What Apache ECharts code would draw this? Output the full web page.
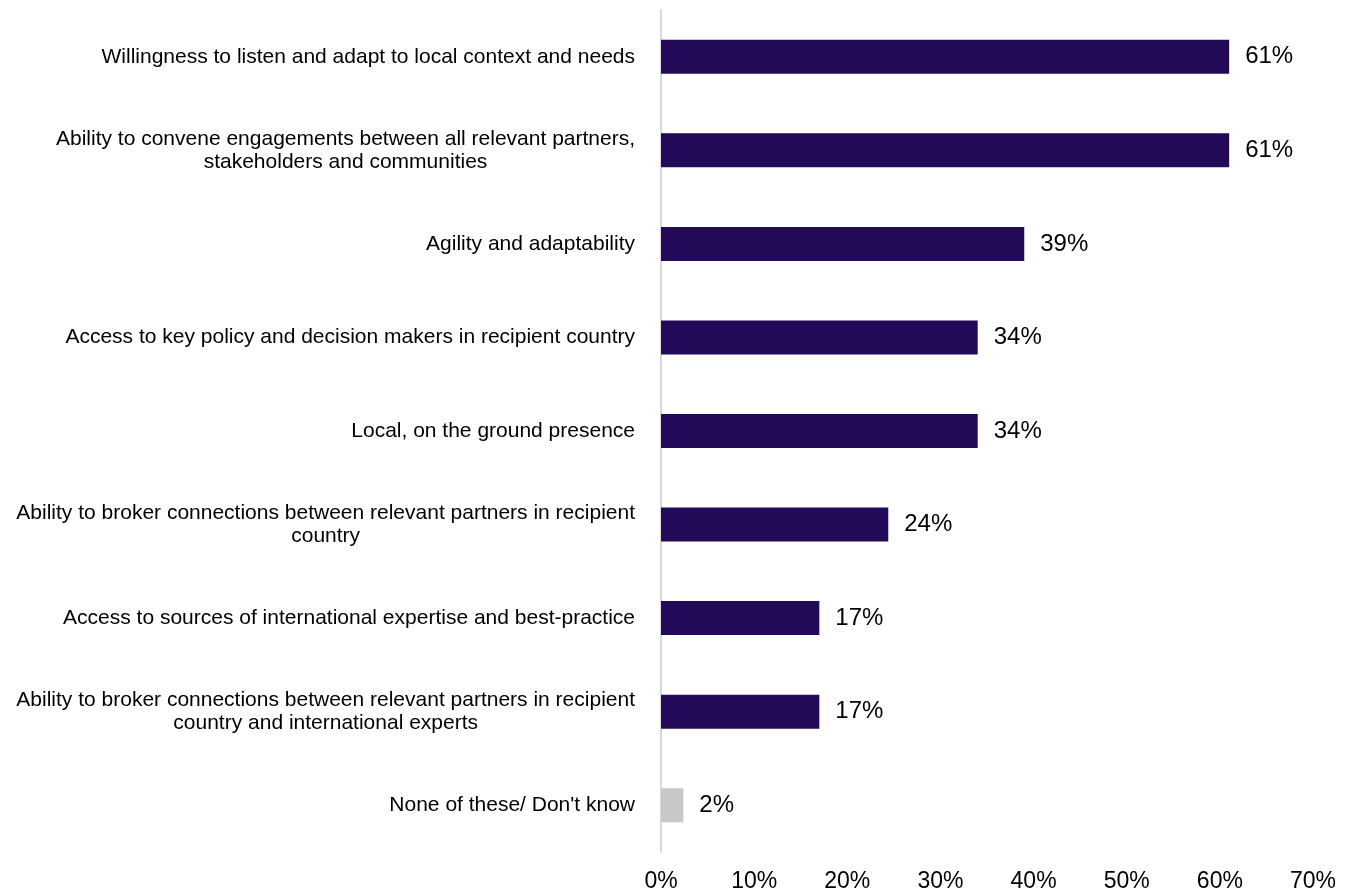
<!DOCTYPE html>
<html>
<head>
<meta charset="utf-8">
<script src="https://cdn.jsdelivr.net/npm/echarts@6/dist/echarts.min.js"></script>
<style>html,body{margin:0;padding:0;background:#fff;}#c{width:1353px;height:891px;}</style>
</head>
<body>
<div id="c"></div>
<script>
const categories = [
  "Willingness to listen and adapt to local context and needs",
  "Ability to convene engagements between all relevant partners,\nstakeholders and communities",
  "Agility and adaptability",
  "Access to key policy and decision makers in recipient country",
  "Local, on the ground presence",
  "Ability to broker connections between relevant partners in recipient\ncountry",
  "Access to sources of international expertise and best-practice",
  "Ability to broker connections between relevant partners in recipient\ncountry and international experts",
  "None of these/ Don't know"
];
const values = [61, 61, 39, 34, 34, 24.4, 17, 17, 2.4];
const tickLabels = ["0%", "10%", "20%", "30%", "40%", "50%", "60%", "70%"];
const mainColor = '#230A59';
const otherColor = '#C8C8C8';
const FONT = 'Liberation Sans, Arial, sans-serif';

const chart = echarts.init(document.getElementById('c'), null, {renderer: 'canvas'});
chart.setOption({
  animation: false,
  backgroundColor: '#ffffff',
  grid: {left: 661, right: 40, top: 10, bottom: 39, containLabel: false, outerBoundsMode: 'none'},
  xAxis: {
    type: 'value', min: 0, max: 70, interval: 10,
    axisLine: {show: false}, axisTick: {show: false}, splitLine: {show: false},
    axisLabel: {
      margin: 18, fontSize: 23, color: '#000', fontFamily: FONT,
      formatter: function (v) { return tickLabels[Math.round(v / 10)]; }
    }
  },
  yAxis: {
    type: 'category', inverse: true, data: categories,
    axisLine: {show: true, lineStyle: {color: '#D9D9D9', width: 2}},
    axisTick: {show: false},
    axisLabel: {
      margin: 26, fontSize: 21, color: '#000', fontFamily: FONT, align: 'right',
      formatter: function (v) {
        return v.split('\n').map(function (l) { return '{a|' + l + '}'; }).join('\n');
      },
      rich: {a: {fontSize: 21, lineHeight: 23, align: 'center', color: '#000', fontFamily: FONT}}
    }
  },
  series: [{
    type: 'bar',
    barWidth: 34,
    data: values.map(function (v, i) {
      return {value: v, itemStyle: {color: i === values.length - 1 ? otherColor : mainColor}};
    }),
    label: {
      show: true, position: 'right', distance: 16, fontSize: 24, color: '#000', fontFamily: FONT,
      formatter: function (p) { return Math.round(p.value) + '%'; }
    }
  }]
});
</script>
</body>
</html>
